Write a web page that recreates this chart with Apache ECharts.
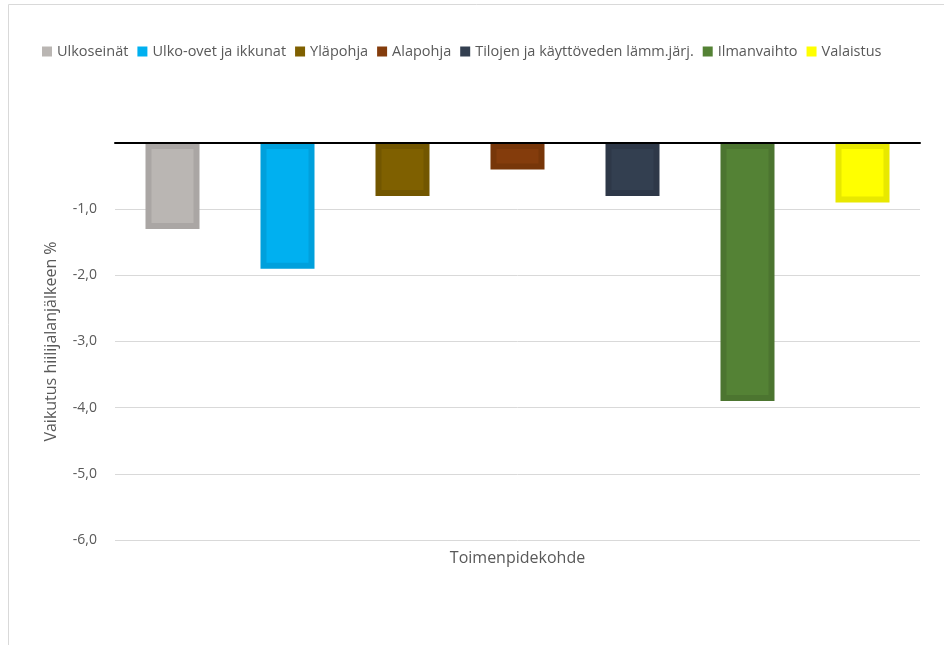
<!DOCTYPE html>
<html><head><meta charset="utf-8">
<script src="https://cdn.jsdelivr.net/npm/echarts@6/dist/echarts.min.js"></script>
<style>html,body{margin:0;padding:0;background:#fff}#c{width:944px;height:645px}</style>
</head><body><div id="c"></div>
<script>
const categories = ['Ulkoseinät','Ulko-ovet ja ikkunat','Yläpohja','Alapohja','Tilojen ja käyttöveden lämm.järj.','Ilmanvaihto','Valaistus'];
const values = [-1.3, -1.9, -0.8, -0.4, -0.8, -3.9, -0.9];
const fillColors = ['#bab6b3','#00b0f0','#7f6000','#843c0c','#333f50','#548235','#ffff00'];
const borderColors = ['#aaa6a4','#00a0dc','#725600','#773609','#2e3848','#4c7530','#e8e800'];
const yTicks = [0,-1,-2,-3,-4,-5,-6];

const chart = echarts.init(document.getElementById('c'));
const font = '"Open Sans", sans-serif';
const series = categories.map((name, i) => ({
  name: name,
  type: 'bar',
  stack: 'all',
  barWidth: 54,
  data: categories.map((_, j) => j === i ? values[i] : null),
  itemStyle: { color: fillColors[i], borderColor: borderColors[i], borderWidth: 6 },
  emphasis: { disabled: true }
}));
chart.setOption({
  animation: false,
  textStyle: { fontFamily: font },
  graphic: [
    { type: 'line', shape: { x1: 8.5, y1: 4.5, x2: 944, y2: 4.5 }, style: { stroke: '#d9d9d9', lineWidth: 1 } },
    { type: 'line', shape: { x1: 8.5, y1: 4.5, x2: 8.5, y2: 645 }, style: { stroke: '#d9d9d9', lineWidth: 1 } }
  ],
  legend: {
    left: 37, top: 39,
    itemWidth: 10, itemHeight: 10, itemGap: 9,
    icon: 'rect',
    textStyle: { color: '#595959', fontSize: 14.5, fontFamily: font, padding: [0, 0, 0, 0] },
    data: categories.map((c, i) => ({ name: c, itemStyle: { color: fillColors[i], borderWidth: 0 } }))
  },
  grid: { left: 115, right: 24, top: 143, bottom: 105 },
  xAxis: [
    {
      type: 'category', data: categories, position: 'bottom',
      axisLine: { show: false, onZero: false }, axisTick: { show: false }, axisLabel: { show: false },
      name: 'Toimenpidekohde', nameLocation: 'middle', nameGap: 10,
      nameTextStyle: { color: '#595959', fontSize: 16, fontFamily: font }
    },
    {
      type: 'category', data: categories, position: 'top', z: 5,
      axisLine: { show: true, onZero: false, lineStyle: { color: '#000', width: 2 } },
      axisTick: { show: false }, axisLabel: { show: false }
    }
  ],
  yAxis: {
    type: 'value', min: -6, max: 0, interval: 1,
    axisLine: { show: false }, axisTick: { show: false },
    splitLine: { lineStyle: { color: '#d9d9d9', width: 1 } },
    axisLabel: {
      color: '#595959', fontSize: 14, fontFamily: font, margin: 18,
      formatter: v => v === 0 ? '' : v.toFixed(1).replace('.', ',')
    },
    name: 'Vaikutus hiilijalanjälkeen %', nameLocation: 'middle', nameGap: 56,
    nameTextStyle: { color: '#595959', fontSize: 16, fontFamily: font }
  },
  series: series
});
</script></body></html>
